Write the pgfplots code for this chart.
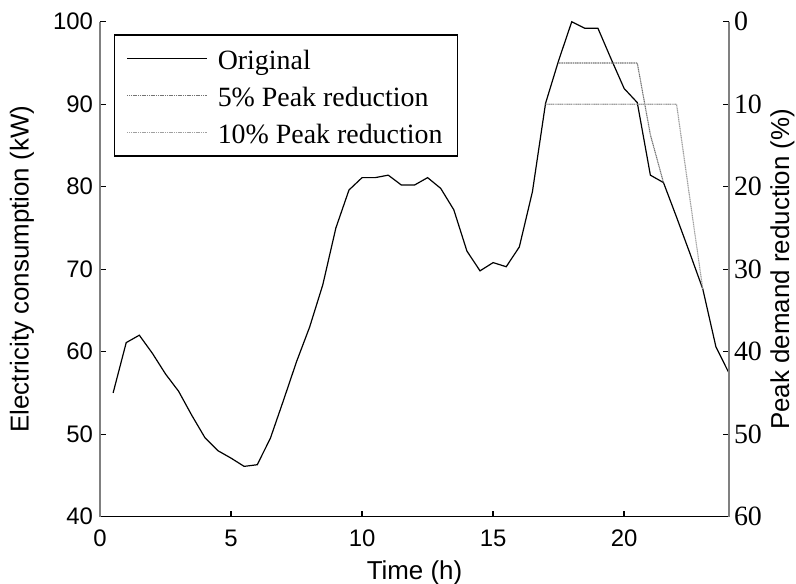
\documentclass[border=0pt]{standalone}
\usepackage{fontspec}
\setmainfont{Liberation Serif}
\newfontfamily\arial{Liberation Sans}
\newfontfamily\tnr{Liberation Serif}
\usepackage{pgfplots}
\pgfplotsset{compat=1.18}

\definecolor{axgray}{RGB}{128,128,128}
\definecolor{peakfive}{RGB}{115,115,115}
\definecolor{peakten}{RGB}{160,160,160}

\begin{document}
\begin{tikzpicture}
\useasboundingbox (-50bp,-33.5bp) rectangle (348bp,258.35bp);
\begin{axis}[
  at={(0,0)}, anchor=south west,
  width=314.5bp, height=247.5bp, scale only axis,
  xmin=0, xmax=24, ymin=40, ymax=100,
  xtick={0,5,10,15,20}, ytick={40,50,...,100},
  axis x line*=bottom, axis y line*=left,
  x axis line style={-, black, line width=0.7bp},
  y axis line style={-, axgray, line width=0.7bp},
  tick align=inside, major tick length=3bp,
  tick style={black, line width=0.7bp},
  /pgf/number format/assume math mode=true,
  ticklabel style={font=\arial\fontsize{12}{14}\selectfont},
  xticklabel style={yshift=-3bp},
  xlabel={Time (h)}, ylabel={Electricity consumption (kW)},
  label style={font=\arial\fontsize{13}{15}\selectfont},
  xlabel style={at={(axis description cs:0.5,-0.113)}, anchor=center},
  ylabel style={at={(axis description cs:-0.124,0.5)}, anchor=center},
  clip=false,
  legend cell align=left,
  legend image code/.code={\draw[#1] (0bp,0bp) -- (40bp,0bp);},
  legend style={at={(rel axis cs:0.022,0.975)}, anchor=north west,
    draw=black, line width=0.75bp, font=\tnr\fontsize{14}{16}\selectfont,
    inner xsep=6bp, inner ysep=4bp, row sep=3bp, column sep=3.5bp,
    nodes={inner sep=1.5bp, text height=12bp, text depth=0.5bp}},
]
% original load
\addplot[black, line width=0.6bp] coordinates {
  (0.5,55.0) (1,61.1) (1.5,62.0) (2,59.8) (2.5,57.3) (3,55.2)
  (3.5,52.3) (4,49.6) (4.5,48.0) (5,47.1) (5.5,46.1) (6,46.3)
  (6.5,49.5) (7,54.1) (7.5,58.8) (8,63.0) (8.5,68.1) (9,75.0)
  (9.5,79.6) (10,81.1) (10.5,81.1) (11,81.4) (11.5,80.2) (12,80.2)
  (12.5,81.1) (13,79.8) (13.5,77.2) (14,72.2) (14.5,69.8) (15,70.8)
  (15.5,70.3) (16,72.7) (16.5,79.4) (17,90.1) (17.5,95.3) (18,100.0)
  (18.5,99.2) (19,99.2) (19.5,95.5) (20,91.9) (20.5,90.2) (21,81.4)
  (21.5,80.5) (22,76.3) (22.5,72.0) (23,67.6) (23.5,60.6) (24,57.4)
};
\addlegendentry{Original}
% 5% peak reduction (differs from original only here)
\addplot[peakfive, line width=0.55bp, dash pattern=on 0.6bp off 0.3bp] coordinates {
  (17.5,95) (18,95) (18.5,95) (19,95) (19.5,95) (20,95) (20.5,95)
  (21,86.3) (21.5,80.5)
};
\addlegendentry{5\%\ Peak reduction}
% 10% peak reduction
\addplot[peakten, line width=0.55bp, dash pattern=on 0.6bp off 0.3bp] coordinates {
  (17,90) (17.5,90) (18,90) (18.5,90) (19,90) (19.5,90) (20,90)
  (20.5,90) (21,90) (21.5,90) (22,90) (22.5,78.7) (23,67.6)
};
\addlegendentry{10\%\ Peak reduction}
\end{axis}
\begin{axis}[
  at={(0,0)}, anchor=south west,
  width=314.5bp, height=247.5bp, scale only axis,
  xmin=0, xmax=24, ymin=0, ymax=60, y dir=reverse,
  axis x line=none, axis y line*=right,
  ytick={0,10,...,60},
  y axis line style={-, axgray, line width=0.7bp},
  tick align=inside, major tick length=3bp,
  tick style={black, line width=0.7bp},
  /pgf/number format/assume math mode=true,
  yticklabel={\tnr\pgfmathprintnumber{\tick}},
  yticklabel style={font=\tnr\fontsize{14}{16}\selectfont, xshift=-1bp},
  ylabel={Peak demand reduction (\%)},
  ylabel style={font=\arial\fontsize{13}{15}\selectfont,
    at={(axis description cs:1.085,0.5)}, anchor=center},
]
\end{axis}
\end{tikzpicture}
\end{document}
